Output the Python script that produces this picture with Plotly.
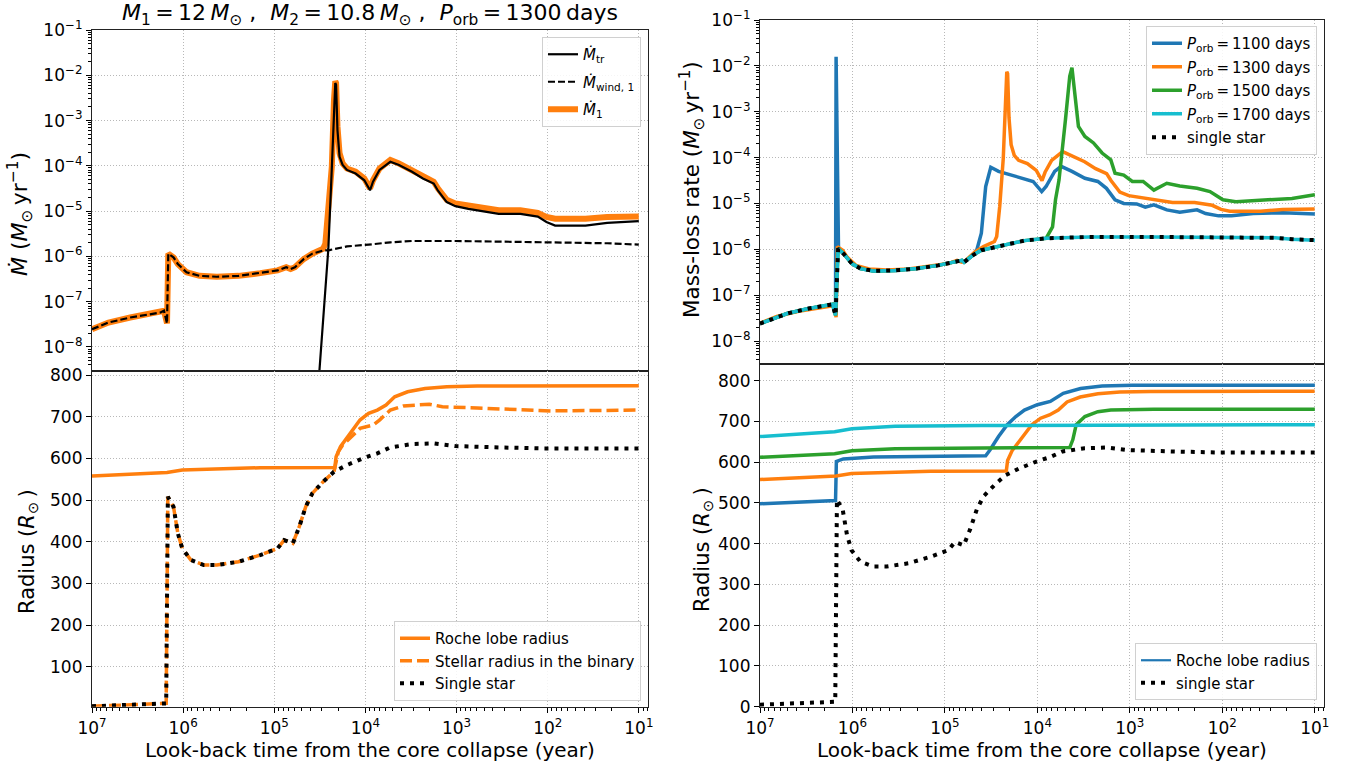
import plotly.graph_objects as go

# ---------------------------------------------------------------
# DATA  (times are log10 of look-back time in years;
#        mass-loss rates are log10 of Msun/yr; radii in Rsun)
# ---------------------------------------------------------------
# Left-top panel: M1=12, M2=10.8, Porb=1300 d
wind1_logt = [7.000, 6.819, 6.581, 6.248, 6.210, 6.177, 6.163, 6.106, 6.058, 5.963,
              5.820, 5.630, 5.392, 5.154, 4.964, 4.869, 4.821, 4.774, 4.678, 4.583,
              4.464, 4.393, 4.203, 3.965, 3.727, 3.489, 3.013, 2.300, 1.824, 1.348, 1.001]
wind1_logmdot = [-7.61, -7.46, -7.35, -7.24, -7.20, -7.48, -5.94, -6.02, -6.17, -6.35,
                 -6.43, -6.45, -6.43, -6.37, -6.31, -6.24, -6.28, -6.24, -6.06, -5.94,
                 -5.87, -5.86, -5.78, -5.74, -5.69, -5.66, -5.66, -5.68, -5.69, -5.71, -5.74]

mdot1_logt = [7.000, 6.819, 6.581, 6.248, 6.210, 6.177, 6.163, 6.106, 6.058, 5.963,
              5.820, 5.630, 5.392, 5.154, 4.964, 4.869, 4.821, 4.774, 4.678, 4.583,
              4.464, 4.440, 4.407, 4.369, 4.345, 4.331, 4.322, 4.307, 4.284, 4.250,
              4.203, 4.108, 4.012, 3.950, 3.917, 3.846, 3.727, 3.632, 3.489, 3.370,
              3.251, 3.204, 3.108, 3.013, 2.871, 2.775, 2.538, 2.300, 2.109, 2.014,
              1.919, 1.586, 1.348, 1.001]
mdot1_logmdot = [-7.61, -7.46, -7.35, -7.24, -7.20, -7.48, -5.94, -6.02, -6.17, -6.35,
                 -6.43, -6.45, -6.43, -6.37, -6.31, -6.24, -6.28, -6.24, -6.06, -5.94,
                 -5.83, -5.72, -5.06, -4.02, -2.54, -2.13, -2.17, -3.13, -3.72, -3.95,
                 -4.06, -4.13, -4.28, -4.50, -4.32, -4.06, -3.87, -3.95, -4.09, -4.24,
                 -4.35, -4.50, -4.75, -4.83, -4.87, -4.91, -4.98, -4.98, -5.04, -5.13,
                 -5.17, -5.17, -5.13, -5.12]

mtr_logt = [4.522, 4.407, 4.369, 4.345, 4.331, 4.322, 4.307, 4.284, 4.250, 4.203,
            4.108, 4.012, 3.950, 3.917, 3.846, 3.727, 3.632, 3.489, 3.370, 3.251,
            3.204, 3.108, 3.013, 2.871, 2.775, 2.538, 2.300, 2.109, 2.014, 1.919,
            1.586, 1.348, 1.001]
mtr_logmdot = [-9.00, -5.83, -4.06, -2.61, -2.17, -2.21, -3.21, -3.80, -3.98, -4.09,
               -4.17, -4.32, -4.54, -4.35, -4.09, -3.91, -3.98, -4.13, -4.28, -4.39,
               -4.55, -4.80, -4.89, -4.95, -4.98, -5.06, -5.06, -5.12, -5.24, -5.32,
               -5.32, -5.26, -5.22]

# Radii, Porb = 1300 d
roche1300_logt = [7.000, 6.177, 6.010, 5.630, 5.154, 4.336, 4.322, 4.274, 4.155, 4.060,
                  3.965, 3.870, 3.774, 3.679, 3.537, 3.346, 3.108, 2.775, 1.001]
roche1300_r = [557.6, 566.4, 572, 575.2, 577.6, 578.4, 604, 628, 664, 692,
               708, 716, 728, 748, 760, 768, 772, 773.6, 774.4]

rstar1300_logt = [7.000, 6.581, 6.186, 6.168, 6.106, 6.058, 6.010, 5.915, 5.773, 5.630,
                  5.392, 5.154, 4.964, 4.892, 4.845, 4.797, 4.726, 4.655, 4.583, 4.464,
                  4.345, 4.298, 4.250, 4.155, 4.060, 3.917, 3.846, 3.727, 3.584, 3.299,
                  3.156, 2.775, 2.300, 1.967, 1.001]
rstar1300_r = [5, 8, 12, 508, 484, 420, 384, 356, 344, 344,
               352, 368, 384, 404, 400, 396, 436, 484, 516, 544,
               568, 616, 632, 652, 672, 680, 692, 716, 726, 730,
               724, 721, 718, 714, 716]

# Single star radius
single_r_logt = [7.000, 6.581, 6.186, 6.168, 6.106, 6.058, 6.010, 5.915, 5.773, 5.630,
                 5.392, 5.154, 4.964, 4.892, 4.845, 4.797, 4.726, 4.655, 4.583, 4.464,
                 4.345, 4.203, 4.012, 3.870, 3.727, 3.489, 3.251, 3.013, 2.538, 2.062,
                 1.001]
single_r = [5, 8, 12, 508, 484, 420, 384, 356, 344, 344,
            352, 368, 384, 404, 400, 396, 436, 484, 516, 544,
            568, 584, 601.6, 612, 626.4, 634.4, 636, 629.6, 626.4, 624,
            624]

# Single star mass-loss rate (also the Porb = 1700 d model)
single_logt = [7.000, 6.706, 6.473, 6.216, 6.183, 6.155, 6.099, 6.006, 5.913, 5.773,
               5.539, 5.306, 5.073, 4.886, 4.816, 4.793, 4.699, 4.606, 4.373, 4.140,
               3.906, 3.673, 3.440, 2.740, 2.273, 1.433, 1.246, 0.999]
single_logmdot = [-7.62, -7.40, -7.29, -7.20, -7.44, -5.98, -6.09, -6.31, -6.42, -6.47,
                  -6.46, -6.42, -6.35, -6.27, -6.24, -6.28, -6.13, -6.02, -5.91, -5.81,
                  -5.76, -5.74, -5.73, -5.73, -5.74, -5.75, -5.78, -5.80]

# Porb = 1100 d mass-loss rate
p1100_logt = [7.000, 6.706, 6.473, 6.216, 6.183, 6.177, 6.165, 6.156, 6.151, 6.099,
              6.006, 5.913, 5.773, 5.539, 5.306, 5.073, 4.886, 4.816, 4.793, 4.699,
              4.653, 4.606, 4.559, 4.504, 4.420, 4.233, 4.046, 3.953, 3.906, 3.813,
              3.743, 3.626, 3.486, 3.346, 3.253, 3.160, 3.066, 2.926, 2.833, 2.740,
              2.600, 2.460, 2.273, 2.180, 2.040, 1.900, 1.666, 1.340, 0.999]
p1100_logmdot = [-7.62, -7.40, -7.29, -7.20, -7.20, -1.80, -4.05, -4.92, -5.98, -6.09,
                 -6.31, -6.42, -6.47, -6.46, -6.42, -6.35, -6.27, -6.24, -6.28, -6.13,
                 -6.00, -5.65, -4.63, -4.21, -4.30, -4.41, -4.52, -4.74, -4.63, -4.30,
                 -4.19, -4.30, -4.45, -4.52, -4.67, -4.92, -5.00, -5.01, -5.08, -5.03,
                 -5.14, -5.19, -5.14, -5.22, -5.27, -5.27, -5.22, -5.20, -5.23]

# Porb = 1500 d mass-loss rate
p1500_logt = [7.000, 6.706, 6.473, 6.216, 6.183, 6.155, 6.099, 6.006, 5.913, 5.773,
              5.539, 5.306, 5.073, 4.886, 4.816, 4.793, 4.699, 4.606, 4.373, 4.140,
              3.906, 3.836, 3.804, 3.766, 3.696, 3.650, 3.626, 3.612, 3.589, 3.556,
              3.486, 3.393, 3.300, 3.206, 3.160, 3.066, 2.973, 2.856, 2.740, 2.600,
              2.460, 2.273, 2.133, 1.993, 1.853, 1.573, 1.246, 0.999]
p1500_logmdot = [-7.62, -7.40, -7.29, -7.20, -7.44, -5.98, -6.09, -6.31, -6.42, -6.47,
                 -6.46, -6.42, -6.35, -6.27, -6.24, -6.28, -6.13, -6.02, -5.91, -5.81,
                 -5.76, -5.51, -4.92, -4.49, -3.17, -2.23, -2.04, -2.30, -2.88, -3.32,
                 -3.54, -3.68, -3.90, -4.05, -4.34, -4.38, -4.52, -4.52, -4.71, -4.56,
                 -4.62, -4.67, -4.74, -4.92, -4.96, -4.92, -4.89, -4.81]

# Roche-lobe radii for the other orbital periods
roche1100_logt = [7.000, 6.183, 6.174, 6.099, 5.773, 5.073, 4.559, 4.513, 4.420, 4.326,
                  4.233, 4.140, 4.000, 3.860, 3.720, 3.533, 3.300, 2.973, 0.999]
roche1100_r = [498, 506, 602, 608, 613, 614, 616, 630, 663, 692,
               712, 728, 741, 749, 769, 781, 787, 789, 789]

roche1500_logt = [7.000, 6.193, 6.006, 5.539, 4.606, 3.650, 3.617, 3.580, 3.486, 3.346,
                  3.206, 2.740, 0.999]
roche1500_r = [612, 621, 628, 633, 635, 636, 655, 692, 712, 724, 728, 730, 730]

roche1700_logt = [7.000, 6.193, 6.006, 5.539, 4.606, 0.999]
roche1700_r = [663, 675, 682, 688, 690, 692]

# tick labels
x_exps = [7, 6, 5, 4, 3, 2, 1]
y_exps = [-1, -2, -3, -4, -5, -6, -7, -8]

# ---------------------------------------------------------------
BLUE, ORANGE, GREEN, CYAN = "#1f77b4", "#ff7f0e", "#2ca02c", "#17becf"
FONT = "DejaVu Sans"
W, H = 1356, 761
SP = "\u2009"  # thin space (math spacing)


def p10(a):
    return [10.0 ** v for v in a]


fig = go.Figure()

# ---- top-left
fig.add_trace(go.Scatter(x=p10(mdot1_logt), y=p10(mdot1_logmdot), mode="lines",
                         line=dict(color=ORANGE, width=6), name="<i>Ṁ</i><sub>1</sub>",
                         legend="legend", legendrank=3, legendgroup="a3",
                         xaxis="x", yaxis="y"))
fig.add_trace(go.Scatter(x=p10(mtr_logt), y=p10(mtr_logmdot), mode="lines",
                         line=dict(color="black", width=2.2), name="<i>Ṁ</i><sub>tr</sub>",
                         legend="legend", legendrank=1, legendgroup="a1",
                         xaxis="x", yaxis="y"))
fig.add_trace(go.Scatter(x=p10(wind1_logt), y=p10(wind1_logmdot), mode="lines",
                         line=dict(color="black", width=2.2, dash="7px,3px"),
                         name="<i>Ṁ</i><sub>wind, 1</sub>",
                         legend="legend", legendrank=2, legendgroup="a2",
                         xaxis="x", yaxis="y"))

# ---- bottom-left
fig.add_trace(go.Scatter(x=p10(roche1300_logt), y=roche1300_r, mode="lines",
                         line=dict(color=ORANGE, width=3.5), name="Roche lobe radius",
                         legend="legend2", legendgroup="b1", xaxis="x2", yaxis="y2"))
fig.add_trace(go.Scatter(x=p10(rstar1300_logt), y=rstar1300_r, mode="lines",
                         line=dict(color=ORANGE, width=3.5, dash="12px,5px"),
                         name="Stellar radius in the binary",
                         legend="legend2", legendgroup="b2", xaxis="x2", yaxis="y2"))
fig.add_trace(go.Scatter(x=p10(single_r_logt), y=single_r, mode="lines",
                         line=dict(color="black", width=4, dash="4px,6px"),
                         name="Single star", legend="legend2", legendgroup="b3",
                         xaxis="x2", yaxis="y2"))

# ---- top-right
for i, (lt, lm, col, nm) in enumerate([(p1100_logt, p1100_logmdot, BLUE, "1100"),
                                       (mdot1_logt, mdot1_logmdot, ORANGE, "1300"),
                                       (p1500_logt, p1500_logmdot, GREEN, "1500"),
                                       (single_logt, single_logmdot, CYAN, "1700")]):
    fig.add_trace(go.Scatter(x=p10(lt), y=p10(lm), mode="lines",
                             line=dict(color=col, width=3.5),
                             name="<i>P</i><sub>orb</sub>" + SP + "=" + SP + nm + " days",
                             legend="legend3", legendgroup="c%d" % i,
                             xaxis="x3", yaxis="y3"))
fig.add_trace(go.Scatter(x=p10(single_logt), y=p10(single_logmdot), mode="lines",
                         line=dict(color="black", width=4, dash="4px,6px"),
                         name="single star", legend="legend3", legendgroup="c9",
                         xaxis="x3", yaxis="y3"))

# ---- bottom-right
for lt, rr, col in [(roche1100_logt, roche1100_r, BLUE),
                    (roche1300_logt, roche1300_r, ORANGE),
                    (roche1500_logt, roche1500_r, GREEN),
                    (roche1700_logt, roche1700_r, CYAN)]:
    fig.add_trace(go.Scatter(x=p10(lt), y=rr, mode="lines",
                             line=dict(color=col, width=3.5), showlegend=False,
                             xaxis="x4", yaxis="y4"))
fig.add_trace(go.Scatter(x=p10(single_r_logt), y=single_r, mode="lines",
                         line=dict(color="black", width=4, dash="4px,6px"),
                         name="single star", legend="legend4", legendrank=2,
                         legendgroup="d2", xaxis="x4", yaxis="y4"))
fig.add_trace(go.Scatter(x=[None], y=[None], mode="lines",
                         line=dict(color=BLUE, width=2.2), name="Roche lobe radius",
                         legend="legend4", legendrank=1, legendgroup="d1",
                         xaxis="x4", yaxis="y4"))

# ---------------------------------------------------------------
xt_vals = [10.0 ** e for e in x_exps]
xt_text = ["10<sup>%d</sup>" % e for e in x_exps]
x_minor = [k * 10.0 ** n for n in range(0, 7) for k in range(2, 10)]
x_minor = [v for v in x_minor if 10 ** 0.9 <= v <= 1e7]
yt_vals = [10.0 ** e for e in y_exps]
yt_text = ["10<sup>−%d</sup>" % (-e) for e in y_exps]
y_minor = [k * 10.0 ** n for n in range(-9, -1) for k in range(2, 10)]

GRID = dict(showgrid=True, gridcolor="#b8b8b8", griddash="1px,2px", gridwidth=1)
FRAME = dict(showline=True, mirror=True, linecolor="#222222", linewidth=1.2,
             zeroline=False, automargin=False,
             tickfont=dict(family=FONT, size=17, color="black"),
             ticks="outside", ticklen=5, tickcolor="black", tickwidth=1.1)


def xaxis(domain, anchor, labels):
    d = dict(domain=domain, anchor=anchor, type="log", range=[7.0, 0.9],
             tickmode="array", tickvals=xt_vals, ticktext=xt_text,
             showticklabels=labels, ticklabelstandoff=1,
             minor=dict(tickmode="array", tickvals=x_minor, ticks="outside" if labels else "",
                        ticklen=3, tickcolor="black", showgrid=False),
             **GRID, **FRAME)
    if not labels:
        d["ticks"] = ""
    return d


def ylog(domain, anchor, lo):
    return dict(domain=domain, anchor=anchor, type="log", range=[lo, -1.0],
                tickmode="array", tickvals=yt_vals, ticktext=yt_text,
                minor=dict(tickmode="array", tickvals=y_minor, ticks="outside",
                           ticklen=3, tickcolor="black", showgrid=False),
                **GRID, **FRAME)


def ylin(domain, anchor, rng, vals):
    return dict(domain=domain, anchor=anchor, range=rng, tickmode="array",
                tickvals=vals, ticktext=[str(v) for v in vals], **GRID, **FRAME)


LX = [92 / W, 648 / W]
RX = [760 / W, 1324 / W]
BOT = 1 - 706.7 / H
L_MID = 1 - 370.5 / H
R_MID = 1 - 364 / H
L_TOP = 1 - 30 / H
R_TOP = 1 - 20 / H


def leg(x, y, xa, ya, gap):
    return dict(x=x, y=y, xanchor=xa, yanchor=ya,
                bgcolor="rgba(255,255,255,0.85)", bordercolor="#d0d0d0", borderwidth=1,
                font=dict(family=FONT, size=15, color="black"), itemwidth=30,
                tracegroupgap=gap)


fig.update_layout(
    width=W, height=H, margin=dict(l=0, r=0, t=0, b=0, pad=0, autoexpand=False),
    paper_bgcolor="white", plot_bgcolor="white",
    font=dict(family=FONT, size=15, color="black"),
    xaxis=xaxis(LX, "y", False),
    yaxis=ylog([L_MID, L_TOP], "x", -8.52),
    xaxis2=xaxis(LX, "y2", True),
    yaxis2=ylin([BOT, L_MID], "x2", [4, 811], [100, 200, 300, 400, 500, 600, 700, 800]),
    xaxis3=xaxis(RX, "y3", False),
    yaxis3=ylog([R_MID, R_TOP], "x3", -8.5),
    xaxis4=xaxis(RX, "y4", True),
    yaxis4=ylin([BOT, R_MID], "x4", [0, 841], [0, 100, 200, 300, 400, 500, 600, 700, 800]),
    legend=leg(641 / W, 1 - 37 / H, "right", "top", 5),
    legend2=leg(641 / W, 1 - 701 / H, "right", "bottom", 0),
    legend3=leg(1317 / W, 1 - 26 / H, "right", "top", 1),
    legend4=leg(1317 / W, 1 - 700 / H, "right", "bottom", 0),
    showlegend=True,
)

MS = "<i>M</i><sub>⊙</sub>"
ann = []
ann.append(dict(text="<i>M</i><sub>1</sub>" + SP + "=" + SP + "12" + SP + MS + " ,  "
                     "<i>M</i><sub>2</sub>" + SP + "=" + SP + "10.8" + SP + MS + " ,  "
                     "<i>P</i><sub>orb</sub>" + SP + "=" + SP + "1300" + SP + "days",
                x=370 / W, y=1 - 15 / H, font=dict(family=FONT, size=22)))
xt = "Look-back time from the core collapse (year)"
ann.append(dict(text=xt, x=370 / W, y=1 - 750 / H, font=dict(family=FONT, size=20)))
ann.append(dict(text=xt, x=1042 / W, y=1 - 750 / H, font=dict(family=FONT, size=20)))
ann.append(dict(text="<i>Ṁ</i> (" + MS + SP + "yr<sup>−1</sup>)", x=20 / W,
                y=1 - 214 / H, textangle=-90, font=dict(family=FONT, size=22)))
ann.append(dict(text="Radius (<i>R</i><sub>⊙</sub>" + SP + ")", x=28 / W, y=1 - 552 / H,
                textangle=-90, font=dict(family=FONT, size=21)))
ann.append(dict(text="Mass-loss rate (" + MS + SP + "yr<sup>−1</sup>)", x=692 / W,
                y=1 - 190 / H, textangle=-90, font=dict(family=FONT, size=21.5)))
ann.append(dict(text="Radius (<i>R</i><sub>⊙</sub>" + SP + ")", x=703 / W, y=1 - 550 / H,
                textangle=-90, font=dict(family=FONT, size=21)))
for a in ann:
    a.update(xref="paper", yref="paper", showarrow=False, xanchor="center", yanchor="middle")
fig.update_layout(annotations=ann)

fig.write_html("out.html")
